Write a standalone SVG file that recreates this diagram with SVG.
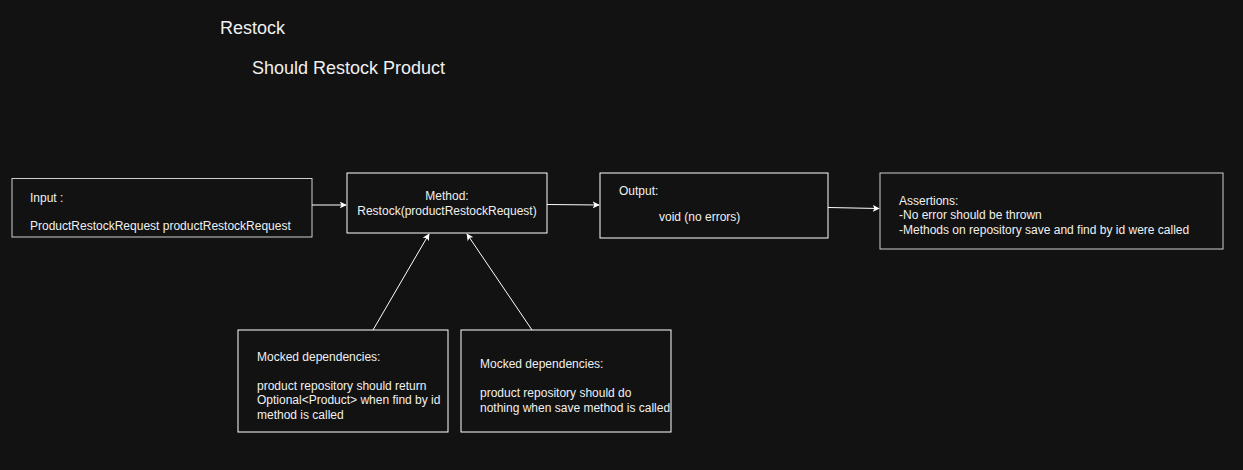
<svg xmlns="http://www.w3.org/2000/svg" width="1243" height="470" viewBox="0 0 1243 470">
<style>
.bg{fill:#121212}
.box{fill:#121212;stroke:#ffffff;stroke-width:1}
.grey{stroke:#cfcfcf}
.t{font-family:"Liberation Sans",Arial,sans-serif;font-size:12px;fill:#f0f0f0}
.title{font-family:"Liberation Sans",Arial,sans-serif;font-size:18px;fill:#f0f0f0}
.edge{stroke:#ffffff;stroke-width:1;fill:none}
</style>
<defs>
<marker id="arr" viewBox="0 0 10 10" refX="9" refY="5" markerWidth="7" markerHeight="7" markerUnits="userSpaceOnUse" orient="auto">
<path d="M0,0 L10,5 L0,10 L2.5,5 Z" fill="#ffffff"/>
</marker>
</defs>
<rect class="bg" x="0" y="0" width="1243" height="470"/>
<text class="title" x="220" y="34">Restock</text>
<text class="title" x="252" y="74">Should Restock Product</text>
<g id="input">
<rect class="box grey" x="12" y="178.5" width="300" height="58.5"/>
<text class="t" x="30" y="202">Input :</text>
<text class="t" x="30" y="230">ProductRestockRequest productRestockRequest</text>
</g>
<g id="method">
<rect class="box" x="347" y="173" width="200" height="60"/>
<text class="t" x="447" y="200" text-anchor="middle">Method:</text>
<text class="t" x="447" y="215" text-anchor="middle">Restock(productRestockRequest)</text>
</g>
<g id="output">
<rect class="box" x="600" y="173" width="228" height="65"/>
<text class="t" x="619" y="195">Output:</text>
<text class="t" x="659" y="221">void (no errors)</text>
</g>
<g id="assertions">
<rect class="box grey" x="880" y="173" width="343" height="76"/>
<text class="t" x="899" y="205">Assertions:</text>
<text class="t" x="899" y="219">-No error should be thrown</text>
<text class="t" x="899" y="234">-Methods on repository save and find by id were called</text>
</g>
<g id="mock1">
<rect class="box" x="238" y="330" width="210" height="102"/>
<text class="t" x="257" y="361">Mocked dependencies:</text>
<text class="t" x="257" y="390">product repository should return</text>
<text class="t" x="257" y="404">Optional&lt;Product&gt; when find by id</text>
<text class="t" x="257" y="419">method is called</text>
</g>
<g id="mock2">
<rect class="box" x="461" y="330" width="210" height="102"/>
<text class="t" x="480" y="368">Mocked dependencies:</text>
<text class="t" x="480" y="397">product repository should do</text>
<text class="t" x="480" y="412">nothing when save method is called</text>
</g>
<g id="connectors">
<line class="edge" x1="312" y1="205" x2="346" y2="205" marker-end="url(#arr)"/>
<line class="edge" x1="547" y1="204.5" x2="599" y2="205" marker-end="url(#arr)"/>
<line class="edge" x1="828" y1="207.5" x2="879" y2="208.5" marker-end="url(#arr)"/>
<line class="edge" x1="373" y1="330" x2="429" y2="234" marker-end="url(#arr)"/>
<line class="edge" x1="532" y1="330" x2="467" y2="234" marker-end="url(#arr)"/>
</g>
</svg>
